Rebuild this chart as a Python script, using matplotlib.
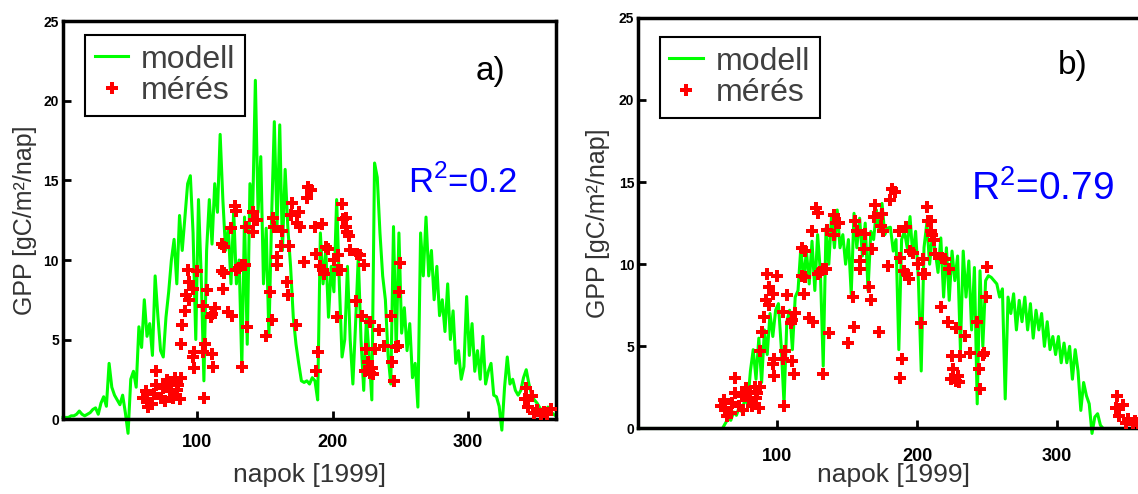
import numpy as np
import matplotlib.pyplot as plt

plt.rcParams['font.family'] = ['Liberation Sans', 'DejaVu Sans']
plt.rcParams['mathtext.fontset'] = 'custom'
plt.rcParams['mathtext.rm'] = 'Liberation Sans'

days = list(range(1, 366, 2))

modell_a = [0.1, 0.1, 0.1, 0.2, 0.2, 0.3, 0.5, 0.3, 0.2, 0.3,
            0.4, 0.6, 0.7, 0.3, 1.0, 1.4, 0.8, 3.5, 2.0, 1.5,
            1.2, 0.9, 1.5, 0.4, -0.9, 2.5, 3.0, 2.0, 5.8, 4.5,
            7.5, 5.2, 6.0, 4.0, 9.0, 6.5, 4.3, 3.9, 6.4, 8.0,
            10.0, 11.3, 8.5, 12.8, 10.6, 12.7, 14.8, 15.3, 11.7, 5.0,
            13.8, 9.0, 2.4, 10.6, 13.8, 11.0, 14.8, 13.0, 17.9, 13.8,
            10.6, 12.0, 8.5, 13.1, 8.5, 10.0, 3.3, 12.7, 4.7, 14.8,
            13.0, 21.3, 13.0, 16.5, 8.5, 12.0, 5.2, 12.7, 18.7, 12.0,
            18.5, 10.6, 15.7, 12.0, 9.6, 6.4, 4.7, 3.5, 2.4, 2.3,
            2.4, 2.2, 2.6, 2.4, 1.2, 11.7, 8.5, 10.6, 6.4, 9.6,
            8.0, 13.8, 8.5, 3.9, 5.0, 9.6, 5.0, 2.2, 6.0, 10.2,
            5.0, 1.8, 6.4, 4.0, 1.2, 16.1, 15.2, 11.7, 9.0, 7.5,
            4.0, 2.2, 12.1, 4.3, 11.7, 5.4, 7.0, 4.3, 6.0, 2.6,
            3.5, 0.75, 11.7, 9.0, 12.7, 9.0, 10.6, 7.5, 9.6, 6.5,
            7.5, 5.5, 8.5, 5.0, 6.8, 3.5, 4.3, 2.5, 3.3, 7.7,
            4.0, 6.0, 3.0, 4.3, 2.5, 5.2, 2.2, 3.0, 3.5, 1.5,
            1.4, 0.8, -0.7, 2.0, 3.9, 2.2, 2.5, 1.8, 1.5, 1.8,
            2.6, 3.1, 2.2, 1.5, 1.2, 1.0, 0.7, 0.5, 0.4, 0.75,
            0.5, 0.3, 0.2]

modell_b = [0, 0, 0, 0, 0, 0, 0, 0, 0, 0,
            0, 0, 0, 0, 0, 0, 0, 0, 0, 0,
            0, 0, 0, 0, 0, 0, 0, 0, 0, 0,
            0.0, 0.3, 0.6, 0.5, 1.0, 0.8, 1.3, 1.0, 1.8, 1.5,
            3.5, 4.8, 3.0, 5.5, 2.8, 6.0, 4.5, 7.0, 5.6, 7.2,
            7.6, 5.0, 1.5, 6.5, 7.2, 4.8, 8.0, 8.4, 11.0, 9.0,
            10.8, 8.8, 11.4, 8.4, 11.8, 9.5, 3.8, 12.2, 10.0, 13.0,
            11.0, 13.3, 11.0, 11.8, 10.0, 11.5, 8.2, 13.1, 11.0, 12.8,
            10.5, 12.5, 8.4, 12.0, 11.5, 13.3, 12.0, 13.7, 11.8, 12.2,
            12.25, 10.8, 11.5, 4.8, 11.5, 12.0, 11.0, 12.9, 10.5, 12.0,
            9.0, 3.5, 11.0, 12.5, 10.0, 11.8, 10.8, 9.5, 11.6, 8.0,
            11.0, 7.8, 10.8, 9.0, 10.5, 4.8, 10.8, 8.0, 10.2, 6.0,
            9.8, 1.5, 9.6, 5.0, 9.0, 9.3, 9.2, 9.0, 8.8, 8.0,
            8.5, 1.8, 8.0, 7.0, 8.2, 6.0, 7.8, 6.5, 8.0, 6.0,
            7.6, 5.5, 7.2, 6.0, 7.0, 5.0, 6.5, 4.8, 5.6, 4.5,
            5.6, 4.0, 5.2, 4.0, 5.0, 3.0, 4.8, 3.5, 1.1, 2.8,
            2.0, 1.5, -0.3, 0.7, 0.9, 0.2, 0.0, 0.0, 0.0, 0.0,
            0, 0, 0, 0, 0, 0, 0, 0, 0, 0,
            0, 0, 0]

# measured GPP (same in both panels)
meres_nap = [60, 62, 63, 64, 67, 68, 70, 70, 73, 75,
             76, 78, 80, 81, 82, 84, 85, 86, 87, 88,
             88, 89, 91, 92, 93, 94, 94, 97, 97, 98,
             98, 100, 104, 104, 105, 106, 107, 110, 111, 111,
             112, 113, 118, 118, 119, 120, 120, 123, 125, 126,
             128, 129, 129, 131, 133, 133, 135, 136, 137, 141,
             141, 142, 144, 151, 154, 155, 156, 157, 159, 159,
             162, 163, 166, 167, 168, 169, 170, 173, 174, 175,
             176, 179, 181, 182, 184, 187, 188, 188, 189, 191,
             192, 193, 194, 195, 197, 201, 203, 204, 204, 206,
             207, 208, 210, 210, 211, 212, 213, 217, 218, 220,
             222, 223, 224, 225, 226, 228, 228, 229, 230, 231,
             234, 238, 243, 244, 245, 247, 248, 249, 250, 342,
             343, 344, 347, 349, 351, 354, 356, 358, 361]
meres_gpp = [1.35, 1.75, 1.25, 0.75, 0.95, 1.55, 3.05, 2.15, 1.35, 1.95,
             1.15, 2.45, 1.75, 2.25, 1.35, 2.55, 1.85, 2.15, 1.25, 2.55,
             4.7, 5.9, 6.8, 7.8, 9.4, 7.5, 8.6, 8.2, 3.9, 4.2,
             3.2, 9.3, 4.2, 7.1, 1.35, 4.7, 8.1, 6.4, 4.1, 6.6,
             3.3, 7.0, 11.0, 9.3, 8.2, 10.8, 9.2, 6.7, 12.0, 6.5,
             13.4, 13.1, 9.4, 9.5, 9.7, 3.3, 9.7, 12.1, 5.8, 13.0,
             11.75, 12.5, 12.5, 5.2, 8.0, 6.2, 12.65, 12.05, 10.2, 9.7,
             10.9, 11.85, 8.6, 7.8, 10.9, 12.85, 13.6, 5.9, 12.35, 13.05,
             12.05, 9.9, 13.9, 14.6, 14.4, 12.05, 3.05, 10.4, 4.2, 9.6,
             12.25, 9.4, 9.1, 10.8, 10.7, 10.0, 6.4, 10.3, 9.4, 9.4,
             13.5, 12.6, 12.05, 12.65, 11.75, 11.5, 10.6, 7.4, 10.4, 10.3,
             6.5, 9.7, 3.0, 4.4, 3.6, 6.1, 2.9, 3.2, 2.8, 4.4,
             5.6, 4.6, 6.5, 3.6, 2.4, 4.5, 4.6, 8.0, 9.8, 1.25,
             1.95, 0.75, 1.45, 0.35, 0.55, 0.25, 0.45, 0.3, 0.6]

panels = [
    dict(rect=[0.0554, 0.1518, 0.4332, 0.8047], modell=modell_a,
         r2=r'R$^{\mathregular{2}}$=0.2',
         r2_pos=(0.70, 0.569), r2_size=25, letter='a)', letter_pos=(0.868, 0.873),
         leg_anchor=(0.045, 0.966), ylab_x=-0.053, xlab_y=-0.111, xpad=11),
    dict(rect=[0.5610, 0.1326, 0.4478, 0.8314], modell=modell_b,
         r2=r'R$^{\mathregular{2}}$=0.79',
         r2_pos=(0.653, 0.556), r2_size=28, letter='b)', letter_pos=(0.853, 0.883),
         leg_anchor=(0.042, 0.953), ylab_x=-0.056, xlab_y=-0.084, xpad=14),
]

fig = plt.figure(figsize=(11.38, 4.94), dpi=100)

for p in panels:
    ax = fig.add_axes(p['rect'])
    ax.plot(days, p['modell'], color='#00ff00', lw=2.2, clip_on=False,
            label='modell', zorder=2)
    ax.plot(meres_nap, meres_gpp, 'P', color='#ff0000', ms=8, mew=0,
            ls='none', label='mérés', zorder=3)
    ax.set_xlim(1, 365)
    ax.set_ylim(0, 25)
    ax.set_xticks([100, 200, 300])
    ax.set_yticks([0, 5, 10, 15, 20, 25])
    ax.tick_params(direction='in', length=6, width=2, top=False, right=False)
    ax.tick_params(axis='x', labelsize=13, pad=p['xpad'])
    ax.tick_params(axis='y', labelsize=10, pad=3)
    plt.setp(ax.get_xticklabels() + ax.get_yticklabels(), fontweight='bold')
    for s in ax.spines.values():
        s.set_linewidth(2.5)

    ax.set_xlabel('napok [1999]', fontsize=19, color='#333333')
    ax.set_ylabel('GPP [gC/m²/nap]', fontsize=18, color='#333333')
    ax.xaxis.set_label_coords(0.5, p['xlab_y'])
    ax.yaxis.set_label_coords(p['ylab_x'], 0.5)

    leg = ax.legend(loc='upper left', bbox_to_anchor=p['leg_anchor'],
                    borderaxespad=0, fontsize=23, fancybox=False,
                    edgecolor='black', framealpha=1, handlelength=1.05,
                    handletextpad=0.4, labelspacing=0.05, borderpad=0.3,
                    labelcolor='#404040')
    leg.get_frame().set_linewidth(1.5)

    ax.text(*p['r2_pos'], p['r2'], transform=ax.transAxes, color='#0000ff',
            fontsize=p['r2_size'], ha='left', va='baseline')
    ax.text(*p['letter_pos'], p['letter'], transform=ax.transAxes,
            fontsize=24, ha='center', va='center')

fig.savefig('out.png', dpi=100)
